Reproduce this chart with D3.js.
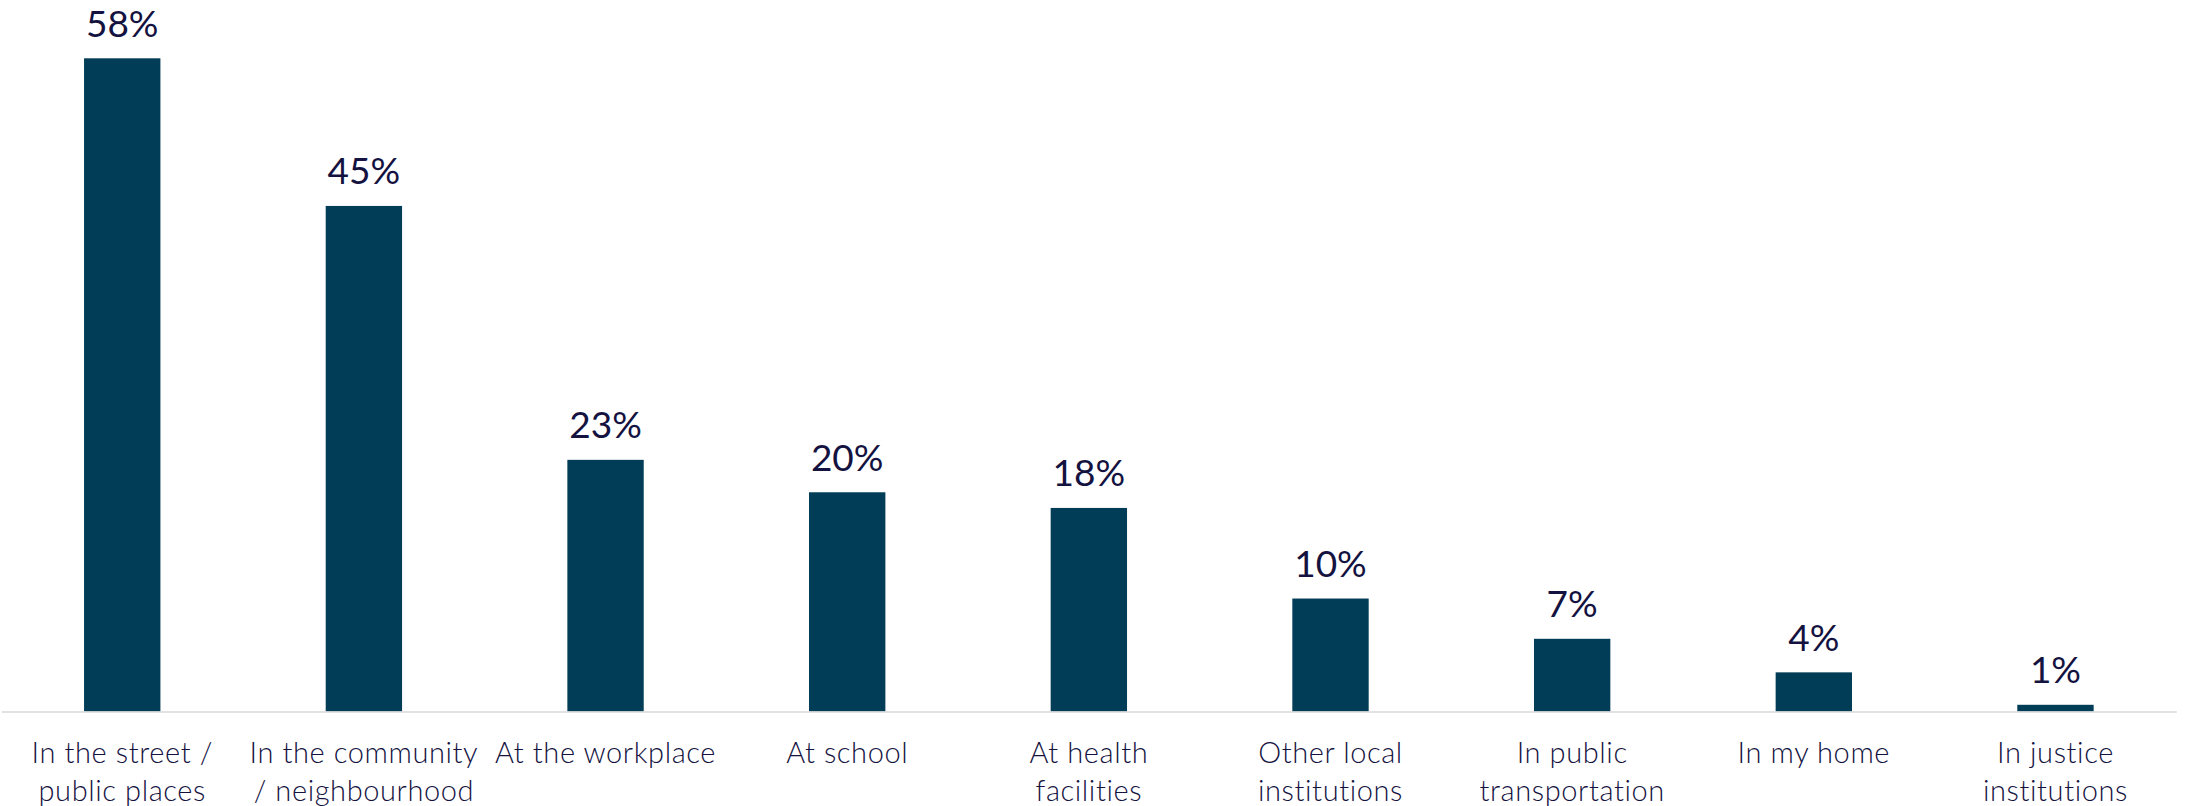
<!DOCTYPE html>
<html lang="en">
<head>
    <meta charset="UTF-8">
    <title>Where incidents happened</title>
    <script src="https://d3js.org/d3.v7.min.js"></script>
    <style>
        html, body { margin: 0; padding: 0; background: #fff; }
        svg { display: block; }
    </style>
</head>
<body>
<svg id="chart" width="2188" height="806"></svg>
<script>
(function () {
    'use strict';

    // data (percent of respondents)
    const categories = [
        "In the street /\npublic places",
        "In the community\n/ neighbourhood",
        "At the workplace",
        "At school",
        "At health\nfacilities",
        "Other local\ninstitutions",
        "In public\ntransportation",
        "In my home",
        "In justice\ninstitutions"
    ];
    const values = [58.4, 45.2, 22.5, 19.6, 18.2, 10.1, 6.5, 3.5, 0.6];

    const width = 2188, height = 806;
    const baseY = 711.5;
    const textColor = "#14123f";
    const barColor = "#023d58";

    const svg = d3.select("#chart")
        .attr("width", width)
        .attr("height", height);

    const x = d3.scaleBand()
        .domain(categories)
        .range([1.4, 2176.3])
        .paddingInner(0.684)
        .paddingOuter(0.342);

    const y = d3.scaleLinear()
        .domain([0, 58.4])
        .range([baseY, 58.3]);

    const fmt = d3.format(".0f");

    // bars
    svg.append("g")
        .selectAll("rect")
        .data(values)
        .join("rect")
        .attr("x", (d, i) => x(categories[i]))
        .attr("width", x.bandwidth())
        .attr("y", d => y(d))
        .attr("height", d => baseY - y(d))
        .attr("fill", barColor);

    // value labels
    svg.append("g")
        .attr("text-anchor", "middle")
        .style("font-family", "Lato, sans-serif")
        .style("font-size", "37px")
        .attr("fill", textColor)
        .selectAll("text")
        .data(values)
        .join("text")
        .attr("x", (d, i) => x(categories[i]) + x.bandwidth() / 2)
        .attr("y", d => y(d) - 21.5)
        .text(d => fmt(d) + "%");

    // category axis
    const axis = svg.append("g")
        .attr("transform", `translate(0,${baseY})`)
        .call(d3.axisBottom(x).tickSize(0).tickSizeOuter(0));

    axis.select(".domain")
        .attr("stroke", "#d9d9d9")
        .attr("stroke-width", 1.5);

    axis.selectAll(".tick text")
        .attr("fill", textColor)
        .attr("dy", null)
        .attr("y", 51)
        .style("font-family", "Lato, sans-serif")
        .style("font-size", "29px")
        .style("font-weight", 300)
        .style("letter-spacing", "0.6px")
        .each(function (d) {
            const t = d3.select(this);
            t.text(null);
            d.split("\n").forEach((line, i) => {
                t.append("tspan")
                    .attr("x", 0)
                    .attr("dy", i === 0 ? 0 : 38)
                    .text(line);
            });
        });
}());
</script>
</body>
</html>
